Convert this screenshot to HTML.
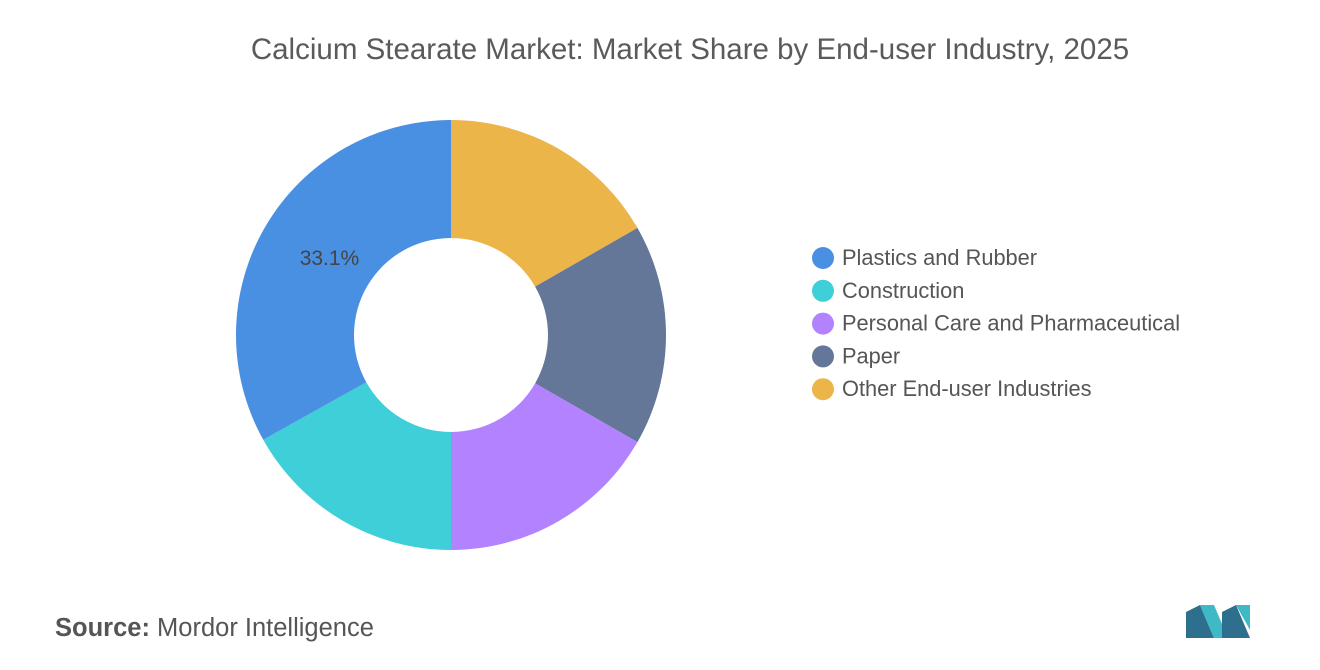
<!DOCTYPE html>
<html><head><meta charset="utf-8"><style>
body{margin:0;width:1320px;height:665px;background:#fff;font-family:"Liberation Sans",sans-serif;overflow:hidden}
</style></head><body>
<svg width="1320" height="665">
<text x="690" y="59" text-anchor="middle" font-size="29.5" fill="#5a5a5a">Calcium Stearate Market: Market Share by End-user Industry, 2025</text>
<g id="donut"></g>
<g id="legend"></g>
<text x="55" y="636" font-size="25.5" fill="#555"><tspan font-weight="bold">Source:</tspan>  Mordor Intelligence</text>
<g>
<polygon points="1186,638 1186,612 1200,605 1214,638" fill="#2e6f8e"/>
<polygon points="1200,605 1214,605 1228,638 1214,638" fill="#3fb9c5"/>
<polygon points="1222,638 1222,612 1236,605 1250,638" fill="#2e6f8e"/>
<polygon points="1236,605 1250,605 1250,630" fill="#3fb9c5"/>
</g>
</svg>
<script>
const categories=["Other End-user Industries","Paper","Personal Care and Pharmaceutical","Construction","Plastics and Rubber"];
const values=[16.7,16.6,16.7,16.9,33.1];
const colors=["#EBB54A","#657798","#B383FF","#3ECFD9","#4A90E2"];
const legendOrder=[4,3,2,1,0];
const NS="http://www.w3.org/2000/svg";
const cx=451,cy=335,R=215,r=97;
const total=values.reduce((a,b)=>a+b,0);
const g=document.getElementById('donut');
function pt(a,rad){return [cx+rad*Math.sin(a),cy-rad*Math.cos(a)];}
let acc=0;
values.forEach((v,i)=>{
 const a0=acc/total*2*Math.PI;acc+=v;const a1=acc/total*2*Math.PI;
 const big=(a1-a0)>Math.PI?1:0;
 const [x0,y0]=pt(a0,R),[x1,y1]=pt(a1,R),[x2,y2]=pt(a1,r),[x3,y3]=pt(a0,r);
 const p=document.createElementNS(NS,'path');
 p.setAttribute('d',`M${x0},${y0}A${R},${R} 0 ${big} 1 ${x1},${y1}L${x2},${y2}A${r},${r} 0 ${big} 0 ${x3},${y3}Z`);
 p.setAttribute('fill',colors[i]);
 
 
 g.appendChild(p);
 if(v>30){
  const am=(a0+a1)/2;const [lx,ly]=pt(am,(R+r)/2);
  const t=document.createElementNS(NS,'text');
  t.setAttribute('x',lx+13);t.setAttribute('y',ly+9);t.setAttribute('text-anchor','middle');
  t.setAttribute('font-size','21');t.setAttribute('fill','#444');
  t.textContent=v.toFixed(1)+'%';
  
  
  g.appendChild(t);
 }
});
const lg=document.getElementById('legend');
legendOrder.forEach((ci,k)=>{
 const y=258+k*32.8;
 const c=document.createElementNS(NS,'circle');
 c.setAttribute('cx',823);c.setAttribute('cy',y);c.setAttribute('r',11);c.setAttribute('fill',colors[ci]);
 
 
 lg.appendChild(c);
 const t=document.createElementNS(NS,'text');
 t.setAttribute('x',842);t.setAttribute('y',y+7);t.setAttribute('font-size','21.8');t.setAttribute('fill','#555');
 t.textContent=categories[ci];
 
 
 lg.appendChild(t);
});
</script>
</body></html>
